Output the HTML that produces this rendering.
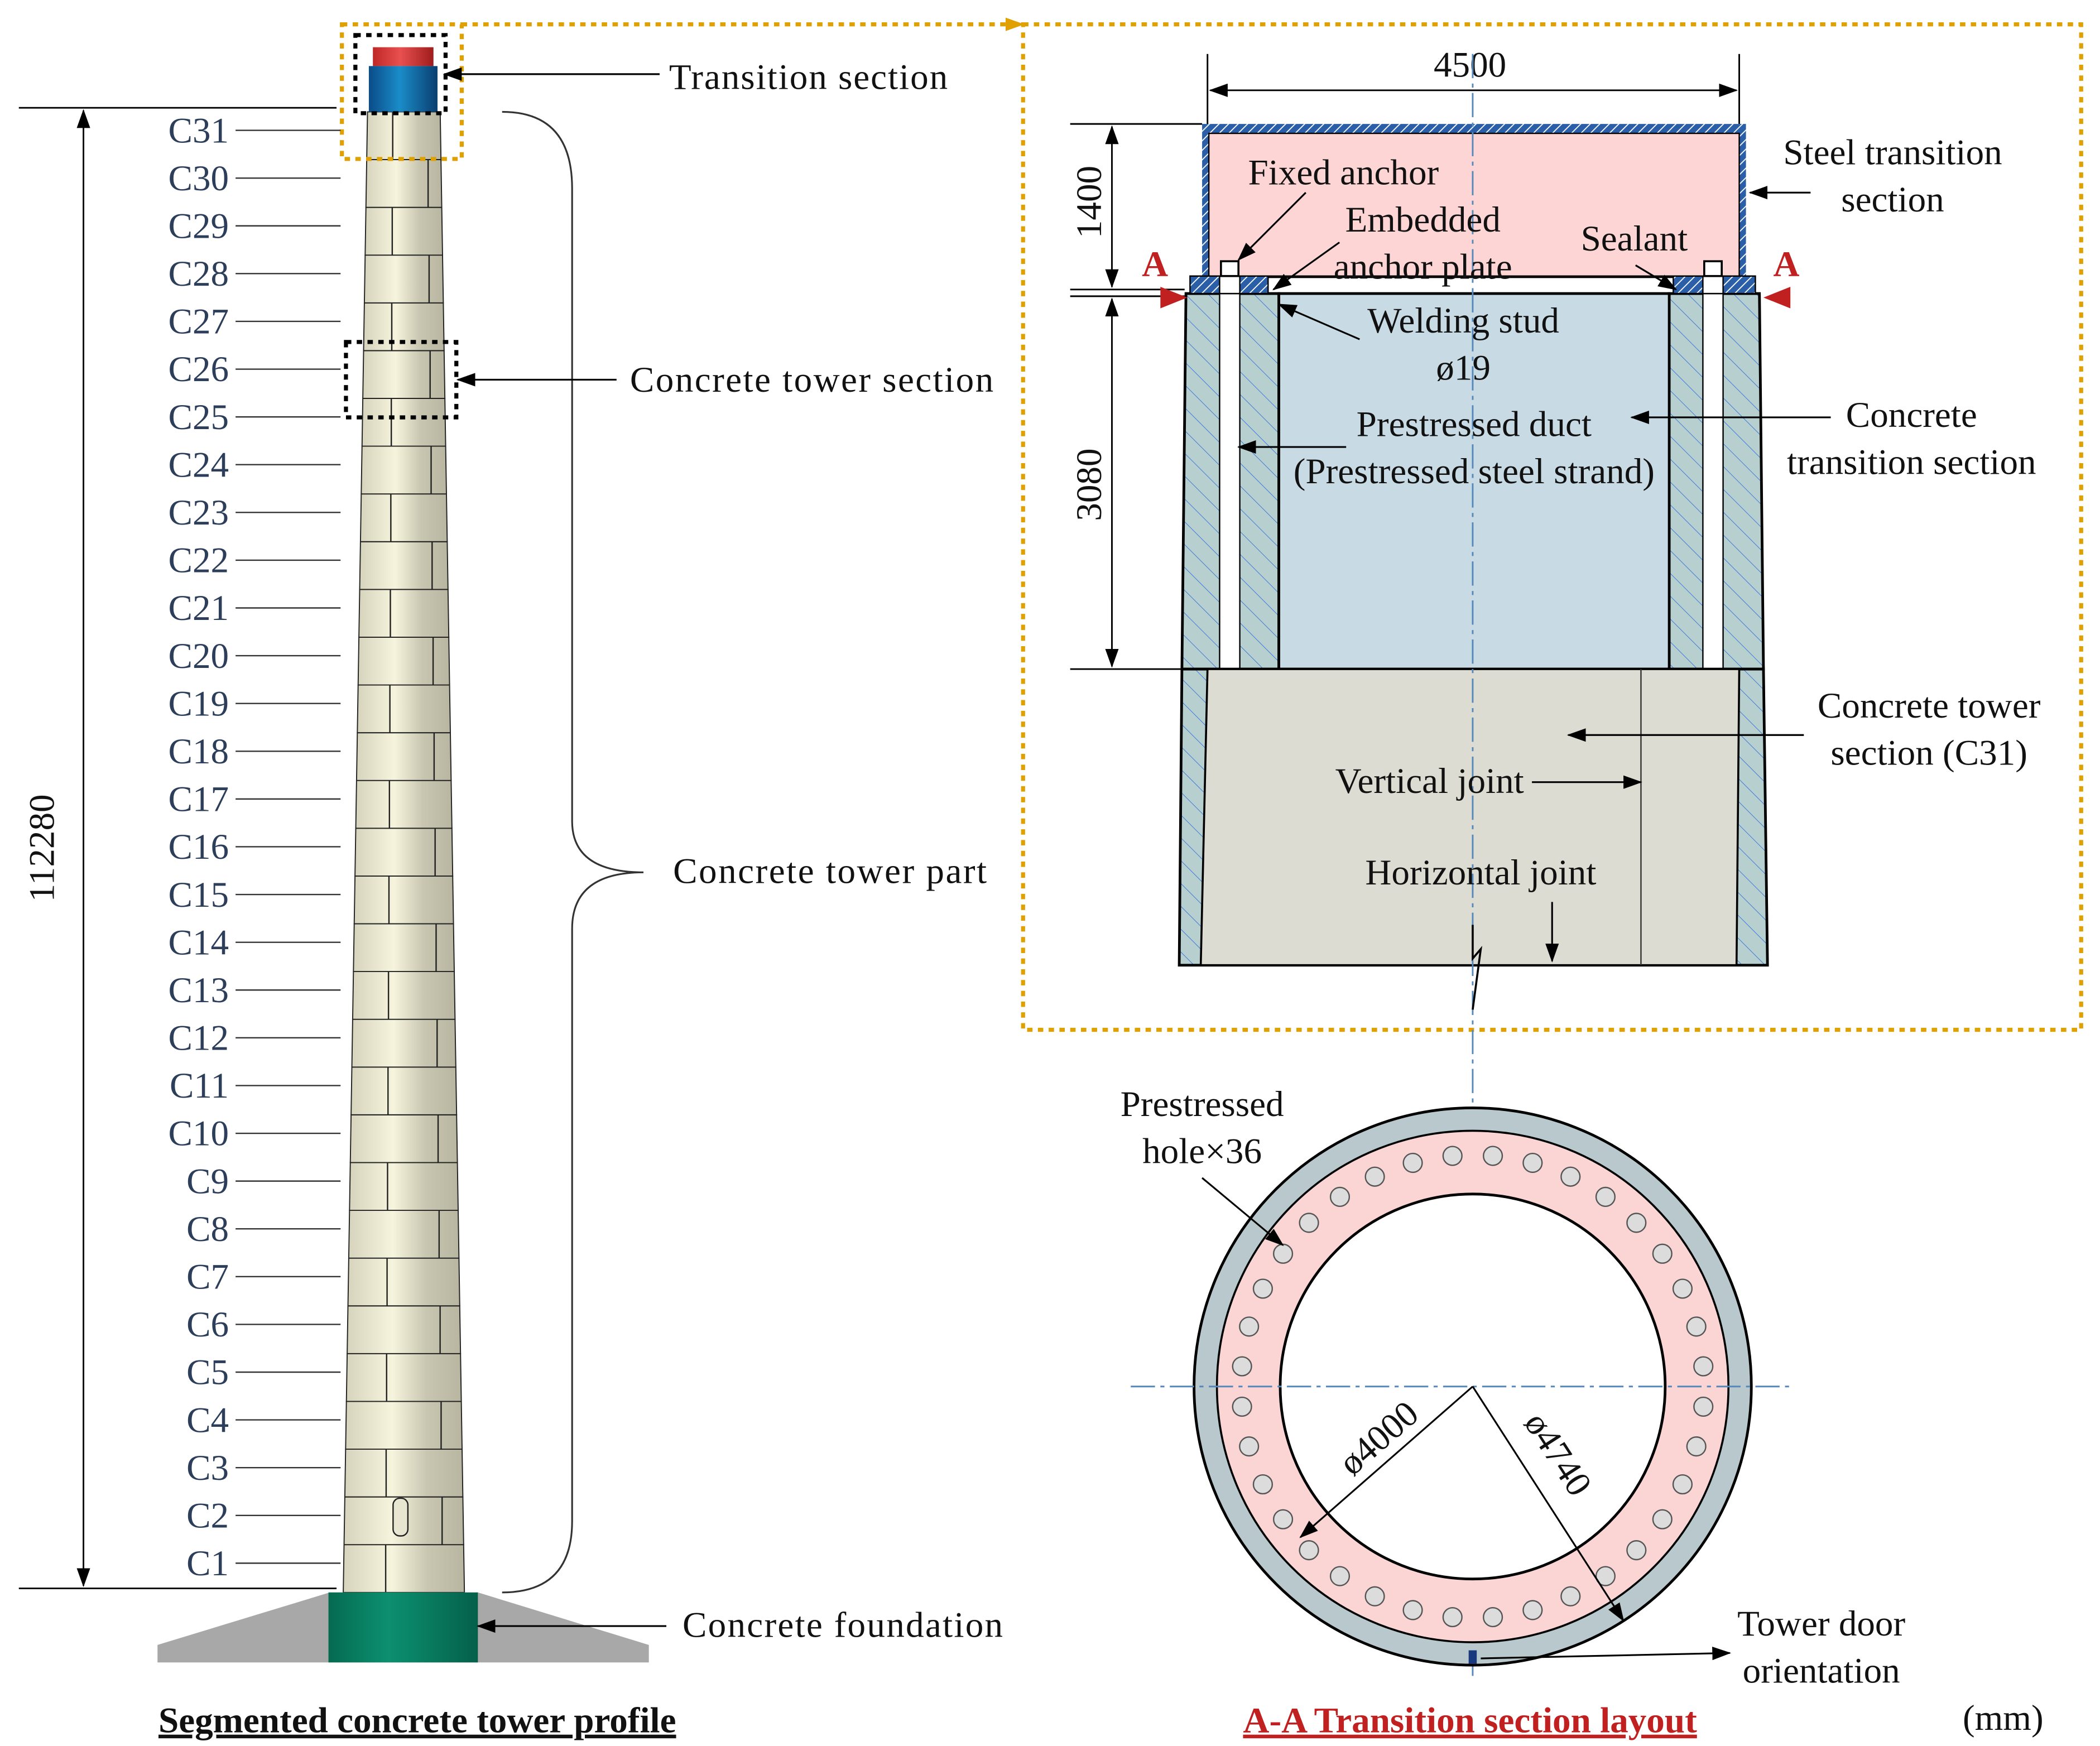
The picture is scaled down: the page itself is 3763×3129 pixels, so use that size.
<!DOCTYPE html>
<html><head><meta charset="utf-8"><style>
html,body{margin:0;padding:0;background:#fff}
svg{display:block}
text{font-family:"Liberation Serif",serif;fill:#111}
</style></head><body>
<svg id="s" width="3763" height="3129" viewBox="0 0 1560 1297" xmlns="http://www.w3.org/2000/svg">
<defs>
<marker id="ahs" markerWidth="14" markerHeight="10" refX="13" refY="5" orient="auto-start-reverse" markerUnits="userSpaceOnUse"><path d="M0,0L14,5L0,10z" fill="#000"/></marker>
<marker id="aho" markerWidth="14" markerHeight="10" refX="13" refY="5" orient="auto" markerUnits="userSpaceOnUse"><path d="M0,0L14,5L0,10z" fill="#e0a000"/></marker>
<linearGradient id="tw" x1="0" x2="1"><stop offset="0" stop-color="#d6d4bc"/><stop offset=".4" stop-color="#f6f4dc"/><stop offset=".7" stop-color="#c8c6b0"/><stop offset="1" stop-color="#b8b6a0"/></linearGradient>
<linearGradient id="bl" x1="0" x2="1"><stop offset="0" stop-color="#0a4c88"/><stop offset=".45" stop-color="#1a8cc8"/><stop offset="1" stop-color="#0a3e70"/></linearGradient>
<linearGradient id="rd" x1="0" x2="1"><stop offset="0" stop-color="#c02828"/><stop offset=".45" stop-color="#e85050"/><stop offset="1" stop-color="#a01c1c"/></linearGradient>
<linearGradient id="gn" x1="0" x2="1"><stop offset="0" stop-color="#056a50"/><stop offset=".4" stop-color="#0c9070"/><stop offset="1" stop-color="#05604a"/></linearGradient>
<pattern id="hatch" width="12" height="12" patternUnits="userSpaceOnUse" patternTransform="rotate(-45)"><rect width="12" height="12" fill="#b8cfd0"/><line x1="0" y1="0" x2="0" y2="12" stroke="#3a78d8" stroke-width="0.8"/></pattern>
<pattern id="ph" width="5" height="5" patternUnits="userSpaceOnUse" patternTransform="rotate(45)"><rect width="5" height="5" fill="#2a5fa8"/><line x1="0" y1="0" x2="0" y2="5" stroke="#fff" stroke-width="1.5"/></pattern>
</defs>
<g id="tower"></g>
<polygon points="117,1235 482,1235 482,1222 355,1183 245,1183 117,1222" fill="#a8a8a8"/>
<rect x="244" y="1183" width="111" height="52" fill="url(#gn)"/>
<rect x="277" y="35" width="45" height="14" fill="url(#rd)"/>
<rect x="274" y="49" width="51" height="34" fill="url(#bl)"/>
<rect x="264" y="26" width="67" height="58" fill="none" stroke="#000" stroke-width="3" stroke-dasharray="4,4"/>
<rect x="257" y="254" width="82" height="56" fill="none" stroke="#000" stroke-width="3" stroke-dasharray="4,4"/>
<rect x="254" y="18" width="89" height="100" fill="none" stroke="#e0a000" stroke-width="3" stroke-dasharray="4,4"/>
<rect x="760" y="18" width="786" height="747" fill="none" stroke="#e0a000" stroke-width="3" stroke-dasharray="4,4"/>
<line x1="343" y1="18" x2="760" y2="18" stroke="#e0a000" stroke-width="3" stroke-dasharray="4,4" marker-end="url(#aho)"/>
<g stroke="#000" stroke-width="1.2">
<line x1="14" y1="80" x2="250" y2="80"/><line x1="14" y1="1180" x2="250" y2="1180"/>
<line x1="62" y1="82" x2="62" y2="1178" marker-start="url(#ahs)" marker-end="url(#ahs)"/>
</g>
<text transform="translate(40,630) rotate(-90)" font-size="27" text-anchor="middle">112280</text>
<g id="labels"></g>
<path d="M373,83 Q425,83 425,140 L425,610 Q425,648 478,648 Q425,648 425,690 L425,1130 Q425,1183 373,1183" fill="none" stroke="#333" stroke-width="1.3"/>
<g stroke="#000" stroke-width="1.3">
<line x1="490" y1="55" x2="330" y2="55" marker-end="url(#ahs)"/>
<line x1="458" y1="282" x2="340" y2="282" marker-end="url(#ahs)"/>
<line x1="495" y1="1208" x2="355" y2="1208" marker-end="url(#ahs)"/>
</g>
<g font-size="27">
<text x="497" y="66" textLength="207">Transition section</text>
<text x="468" y="291" textLength="270">Concrete tower section</text>
<text x="500" y="656" textLength="233">Concrete tower part</text>
<text x="507" y="1216" textLength="238">Concrete foundation</text>
</g>
<text x="310" y="1287" font-size="27" font-weight="bold" text-anchor="middle" text-decoration="underline">Segmented concrete tower profile</text>

<g stroke="#000" stroke-width="1.2">
<line x1="897" y1="40" x2="897" y2="92"/><line x1="1292" y1="40" x2="1292" y2="92"/>
<line x1="899" y1="67" x2="1290" y2="67" marker-start="url(#ahs)" marker-end="url(#ahs)"/>
<line x1="795" y1="92" x2="893" y2="92"/><line x1="795" y1="215" x2="880" y2="215"/><line x1="795" y1="220" x2="880" y2="220"/><line x1="795" y1="497" x2="880" y2="497"/>
<line x1="826" y1="94" x2="826" y2="213" marker-start="url(#ahs)" marker-end="url(#ahs)"/>
<line x1="826" y1="222" x2="826" y2="495" marker-start="url(#ahs)" marker-end="url(#ahs)"/>
</g>
<text x="1092" y="57" font-size="27" text-anchor="middle">4500</text>
<text transform="translate(818,150) rotate(-90)" font-size="27" text-anchor="middle">1400</text>
<text transform="translate(818,360) rotate(-90)" font-size="27" text-anchor="middle">3080</text>
<rect x="893" y="92" width="404" height="114" fill="url(#ph)"/>
<rect x="898" y="99" width="394" height="107" fill="#fdd5d5" stroke="#000" stroke-width="1"/>
<polygon points="881,218 950,218 950,497 878,497" fill="url(#hatch)" stroke="#000" stroke-width="2"/>
<polygon points="1240,218 1307,218 1310,497 1240,497" fill="url(#hatch)" stroke="#000" stroke-width="2"/>
<rect x="950" y="218" width="290" height="279" fill="#c8dae4" stroke="#000" stroke-width="2"/>
<rect x="906" y="218" width="15" height="279" fill="#fff" stroke="#000" stroke-width="1"/>
<rect x="1265" y="218" width="15" height="279" fill="#fff" stroke="#000" stroke-width="1"/>
<rect x="884" y="205" width="58" height="13" fill="url(#ph)" stroke="#000"/>
<rect x="1243" y="205" width="61" height="13" fill="url(#ph)" stroke="#000"/>
<rect x="906" y="205" width="15" height="13" fill="#fff" stroke="#000"/>
<rect x="1265" y="205" width="15" height="13" fill="#fff" stroke="#000"/>
<rect x="907" y="194" width="13" height="11" fill="#fff" stroke="#000" stroke-width="1.5"/>
<rect x="1266" y="194" width="13" height="11" fill="#fff" stroke="#000" stroke-width="1.5"/>
<line x1="884" y1="205" x2="1304" y2="205" stroke="#000" stroke-width="1"/>
<polygon points="878,497 1310,497 1313,717 876,717" fill="url(#hatch)" stroke="#000" stroke-width="2"/>
<polygon points="897,497 1292,497 1290,717 892,717" fill="#dcdcd2" stroke="#000" stroke-width="1.5"/>
<line x1="1219" y1="497" x2="1219" y2="717" stroke="#333" stroke-width="1"/>
<line x1="1094" y1="40" x2="1094" y2="1245" stroke="#5588bb" stroke-width="1.2" stroke-dasharray="18,4,3,4"/>
<polyline points="1094,687 1094,712 1100,705 1094,750" fill="none" stroke="#000" stroke-width="1.5"/>
<g fill="#c02020"><text x="858" y="205" font-size="27" font-weight="bold" style="fill:#c02020" text-anchor="middle">A</text>
<text x="1327" y="205" font-size="27" font-weight="bold" style="fill:#c02020" text-anchor="middle">A</text>
<polygon points="862,213 882,221 862,229"/><polygon points="1330,213 1310,221 1330,229"/></g>
<g stroke="#000" stroke-width="1.3" fill="none">
<line x1="970" y1="143" x2="920" y2="193" marker-end="url(#ahs)"/>
<line x1="995" y1="180" x2="946" y2="215" marker-end="url(#ahs)"/>
<line x1="1215" y1="197" x2="1245" y2="215" marker-end="url(#ahs)"/>
<line x1="1345" y1="143" x2="1300" y2="143" marker-end="url(#ahs)"/>
<line x1="1010" y1="252" x2="950" y2="226" marker-end="url(#ahs)"/>
<line x1="1000" y1="332" x2="920" y2="332" marker-end="url(#ahs)"/>
<line x1="1360" y1="310" x2="1212" y2="310" marker-end="url(#ahs)"/>
<line x1="1340" y1="546" x2="1165" y2="546" marker-end="url(#ahs)"/>
<line x1="1138" y1="581" x2="1219" y2="581" marker-end="url(#ahs)"/>
<line x1="1153" y1="670" x2="1153" y2="714" marker-end="url(#ahs)"/>
</g>
<g font-size="27" text-anchor="middle">
<text x="998" y="137">Fixed anchor</text>
<text x="1057" y="172">Embedded</text>
<text x="1057" y="207">anchor plate</text>
<text x="1214" y="186">Sealant</text>
<text x="1406" y="122">Steel transition</text>
<text x="1406" y="157">section</text>
<text x="1087" y="247">Welding stud</text>
<text x="1087" y="282">ø19</text>
<text x="1095" y="324">Prestressed duct</text>
<text x="1095" y="359">(Prestressed steel strand)</text>
<text x="1420" y="317">Concrete</text>
<text x="1420" y="352">transition section</text>
<text x="1433" y="533">Concrete tower</text>
<text x="1433" y="568">section (C31)</text>
<text x="1062" y="589">Vertical joint</text>
<text x="1100" y="657">Horizontal joint</text>
</g>
<circle cx="1094" cy="1030" r="207" fill="#b8c8cc" stroke="#000" stroke-width="2"/>
<circle cx="1094" cy="1030" r="190" fill="#fbd4d4" stroke="#000" stroke-width="1.5"/>
<circle cx="1094" cy="1030" r="143" fill="#fff" stroke="#000" stroke-width="2"/>
<g id="holes"></g>
<line x1="840" y1="1030" x2="1330" y2="1030" stroke="#5588bb" stroke-width="1.2" stroke-dasharray="18,4,3,4"/>
<g stroke="#000" stroke-width="1.3">
<line x1="1094" y1="1030" x2="966" y2="1142" marker-end="url(#ahs)"/>
<line x1="1094" y1="1030" x2="1206" y2="1204" marker-end="url(#ahs)"/>
<line x1="893" y1="875" x2="953" y2="925" marker-end="url(#ahs)"/>
<line x1="1100" y1="1232" x2="1285" y2="1228" marker-end="url(#ahs)"/>
</g>
<rect x="1091" y="1226" width="6" height="10" fill="#1a3a80"/>
<text transform="translate(1030,1075) rotate(-41)" font-size="27" text-anchor="middle">ø4000</text>
<text transform="translate(1150,1085) rotate(57)" font-size="27" text-anchor="middle">ø4740</text>
<g font-size="27" text-anchor="middle">
<text x="893" y="829">Prestressed</text>
<text x="893" y="864">hole×36</text>
<text x="1353" y="1215">Tower door</text>
<text x="1353" y="1250">orientation</text>
<text x="1488" y="1285">(mm)</text>
</g>
<text x="1092" y="1287" font-size="27" font-weight="bold" text-anchor="middle" text-decoration="underline" style="fill:#c02020">A-A Transition section layout</text>
</svg>
<script>
(function(){
var NS="http://www.w3.org/2000/svg";
function el(p,t,a,txt){var e=document.createElementNS(NS,t);for(var k in a)e.setAttribute(k,a[k]);if(txt)e.textContent=txt;document.getElementById(p).appendChild(e);}
var ytop=83,ybot=1183,n=31,h=(ybot-ytop)/n;
for(var i=0;i<n;i++){
 var yb=ybot-i*h,yt=yb-h,c=300;
 var wb=90-(i/n)*36,wt=90-((i+1)/n)*36;
 el("tower","polygon",{points:(c-wt/2)+","+yt+" "+(c+wt/2)+","+yt+" "+(c+wb/2)+","+yb+" "+(c-wb/2)+","+yb,fill:"url(#tw)",stroke:"#222","stroke-width":"0.8"});
 var jx=(i%2==0)?c-wb*0.15:c+wb*0.32;
 el("tower","line",{x1:jx,y1:yt,x2:jx,y2:yb,stroke:"#222","stroke-width":"1"});
 var ly=yb-h/2-4;
 el("labels","line",{x1:175,y1:ly,x2:253,y2:ly,stroke:"#333","stroke-width":"1"});
 el("labels","text",{x:170,y:ly+9,"font-size":"27","text-anchor":"end",style:"fill:#2c3e5a"},"C"+(i+1));
}
el("tower","rect",{x:292,y:1113,width:11,height:28,rx:5,fill:"#e8e6d0",stroke:"#222"});
for(var k=0;k<36;k++){var a=k*Math.PI*2/36+Math.PI/36;
 el("holes","circle",{cx:1094+172*Math.cos(a),cy:1030+172*Math.sin(a),r:7,fill:"#dcdcdc",stroke:"#555","stroke-width":"1"});}
})();
</script>
</body></html>
